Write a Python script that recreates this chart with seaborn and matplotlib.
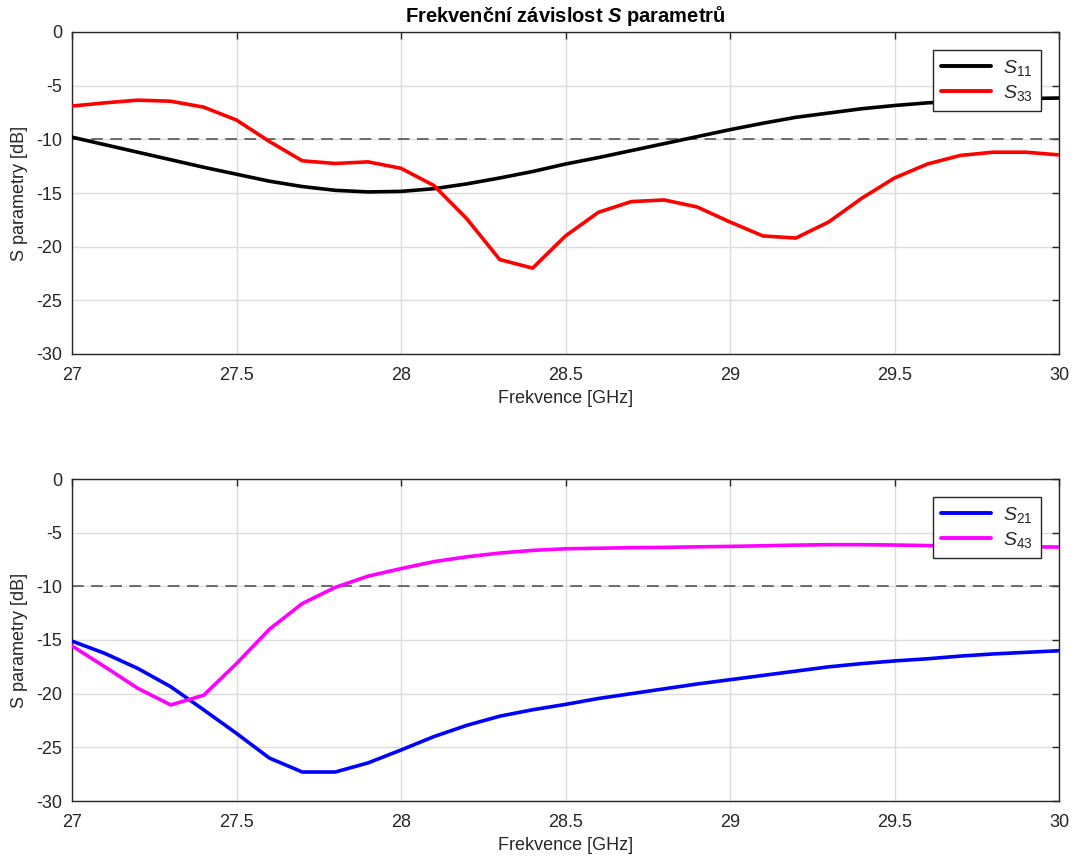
import numpy as np
import pandas as pd
import matplotlib
matplotlib.use("Agg")
import matplotlib.pyplot as plt
import seaborn as sns

# Frequency sweep [GHz]
freq = [27.0, 27.1, 27.2, 27.3, 27.4, 27.5, 27.6, 27.7, 27.8, 27.9,
        28.0, 28.1, 28.2, 28.3, 28.4, 28.5, 28.6, 28.7, 28.8, 28.9,
        29.0, 29.1, 29.2, 29.3, 29.4, 29.5, 29.6, 29.7, 29.8, 29.9, 30.0]

# Reflection coefficients [dB]
s11 = [-9.8, -10.5, -11.2, -11.9, -12.6, -13.25, -13.9, -14.4, -14.75, -14.9,
       -14.85, -14.6, -14.15, -13.6, -13.0, -12.3, -11.7, -11.05, -10.4, -9.75,
       -9.1, -8.5, -7.95, -7.55, -7.15, -6.85, -6.6, -6.45, -6.3, -6.2, -6.15]
s33 = [-6.9, -6.6, -6.35, -6.45, -7.0, -8.2, -10.2, -12.0, -12.25, -12.1,
       -12.7, -14.3, -17.4, -21.2, -22.0, -19.0, -16.8, -15.8, -15.65, -16.3,
       -17.7, -19.0, -19.2, -17.7, -15.5, -13.6, -12.3, -11.5, -11.2, -11.2, -11.45]

# Transmission coefficients [dB]
s21 = [-15.1, -16.25, -17.65, -19.35, -21.5, -23.7, -26.0, -27.3, -27.3, -26.45,
       -25.25, -24.0, -22.95, -22.1, -21.5, -21.0, -20.45, -20.0, -19.55, -19.1,
       -18.7, -18.3, -17.9, -17.5, -17.2, -16.95, -16.75, -16.5, -16.3, -16.15, -16.0]
s43 = [-15.55, -17.5, -19.5, -21.05, -20.15, -17.2, -14.0, -11.6, -10.1, -9.05,
       -8.35, -7.7, -7.25, -6.9, -6.65, -6.5, -6.45, -6.4, -6.37, -6.32,
       -6.28, -6.22, -6.16, -6.12, -6.12, -6.15, -6.2, -6.25, -6.28, -6.31, -6.34]

xticks = [27, 27.5, 28, 28.5, 29, 29.5, 30]
xtick_labels = ["27", "27.5", "28", "28.5", "29", "29.5", "30"]
yticks = [-30, -25, -20, -15, -10, -5, 0]
ytick_labels = ["-30", "-25", "-20", "-15", "-10", "-5", "0"]
threshold = -10

sns.set_theme(style="white")
plt.rcParams["font.family"] = ["Liberation Sans", "DejaVu Sans"]
plt.rcParams["axes.unicode_minus"] = False
plt.rcParams["mathtext.fontset"] = "custom"
plt.rcParams["mathtext.rm"] = "Liberation Sans"
plt.rcParams["mathtext.it"] = "Liberation Sans:italic"
plt.rcParams["mathtext.bf"] = "Liberation Sans:bold"
plt.rcParams["mathtext.bfit"] = "Liberation Sans:italic:bold"

fig = plt.figure(figsize=(10.75, 8.63), dpi=100)
ax_top = fig.add_axes([72 / 1075, 1 - 354 / 863, (1059 - 72) / 1075, (354 - 32) / 863])
ax_bot = fig.add_axes([72 / 1075, 1 - 801 / 863, (1059 - 72) / 1075, (801 - 479) / 863])


def sparam(idx):
    return r"$\mathit{S}_{\mathit{%s}}$" % idx


top = pd.DataFrame({"f": freq * 2, "val": s11 + s33,
                    "param": [sparam("11")] * len(freq) + [sparam("33")] * len(freq)})
bot = pd.DataFrame({"f": freq * 2, "val": s21 + s43,
                    "param": [sparam("21")] * len(freq) + [sparam("43")] * len(freq)})

tick_color = "#262626"
for ax, df, cols in [(ax_top, top, ["#000000", "#ff0000"]),
                     (ax_bot, bot, ["#0000ff", "#ff00ff"])]:
    ax.axhline(threshold, color="#555555", lw=1.2, ls=(0, (7, 4.5)), zorder=1)
    sns.lineplot(data=df, x="f", y="val", hue="param", palette=cols, lw=2.6,
                 ax=ax, zorder=3, estimator=None, sort=False)
    ax.set_xlim(27, 30)
    ax.set_ylim(-30, 0)
    ax.set_xticks(xticks)
    ax.set_xticklabels(xtick_labels)
    ax.set_yticks(yticks)
    ax.set_yticklabels(ytick_labels)
    ax.grid(True, color="#dcdcdc", lw=1.0)
    ax.tick_params(axis="x", pad=9)
    ax.tick_params(axis="y", pad=7)
    ax.tick_params(direction="in", length=5, width=1, top=True, right=True,
                   labelsize=13, colors=tick_color)
    for sp in ax.spines.values():
        sp.set_visible(True)
        sp.set_color(tick_color)
        sp.set_linewidth(1.0)
    ax.set_xlabel("Frekvence [GHz]", fontsize=13, color=tick_color, labelpad=5)
    ax.set_ylabel("S parametry [dB]", fontsize=13, color=tick_color, labelpad=6)
    leg = ax.legend(loc="upper right", fontsize=14, frameon=True, fancybox=False,
                    borderaxespad=0.95, handlelength=2.6, handletextpad=0.6,
                    borderpad=0.4, labelspacing=0.25, framealpha=1)
    leg.get_frame().set_edgecolor(tick_color)
    leg.get_frame().set_linewidth(1.0)
    for h in leg.get_lines():
        h.set_linewidth(2.8)

ax_top.set_title(r"Frekvenční závislost $\mathbfit{S}$ parametrů",
                 fontsize=14.5, fontweight="bold", color="#000000", pad=7)

fig.savefig("out.png", dpi=100)
